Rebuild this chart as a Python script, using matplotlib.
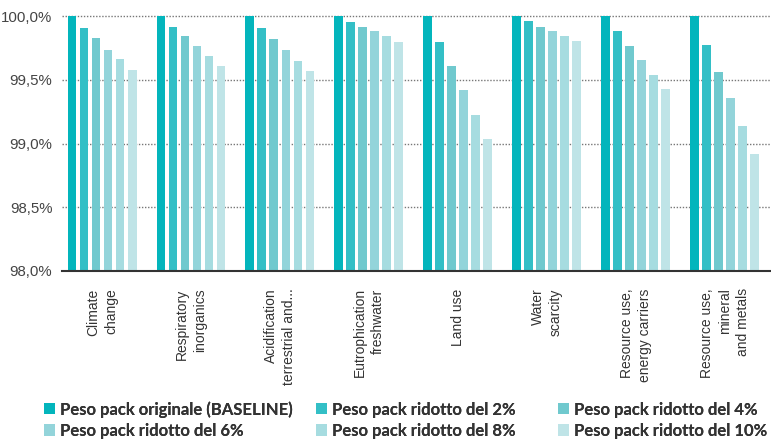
import matplotlib
matplotlib.use("Agg")
import numpy as np
from matplotlib import pyplot as plt
from matplotlib.patches import Patch

# categories / series (values in %)
categories = ["Climate\nchange", "Respiratory\ninorganics", "Acidification\nterrestrial and...",
              "Eutrophication\nfreshwater", "Land use", "Water\nscarcity",
              "Resource use,\nenergy carriers", "Resource use,\nmineral\nand metals"]
series_names = ["Peso pack originale (BASELINE)", "Peso pack ridotto del 2%", "Peso pack ridotto del 4%",
                "Peso pack ridotto del 6%", "Peso pack ridotto del 8%", "Peso pack ridotto del 10%"]
baseline = [100.0, 100.0, 100.0, 100.0, 100.0, 100.0, 100.0, 100.0]
rid_2 = [99.906, 99.914, 99.906, 99.953, 99.797, 99.961, 99.883, 99.774]
rid_4 = [99.829, 99.844, 99.821, 99.914, 99.610, 99.914, 99.766, 99.564]
rid_6 = [99.735, 99.766, 99.735, 99.883, 99.416, 99.883, 99.657, 99.353]
rid_8 = [99.665, 99.688, 99.649, 99.844, 99.221, 99.844, 99.540, 99.135]
rid_10 = [99.579, 99.610, 99.571, 99.797, 99.034, 99.805, 99.431, 98.917]
yticks = [98.0, 98.5, 99.0, 99.5, 100.0]

colors = ["#03b5bc", "#33bfc6", "#70c9ce", "#93d4da", "#a6dce0", "#bfe4e7"]
series = [baseline, rid_2, rid_4, rid_6, rid_8, rid_10]

fig = plt.figure(figsize=(7.71, 4.42), dpi=100)
ax = fig.add_axes([62/771, 171/442, 709/771, 255/442])

x = np.arange(len(categories))
step, width = 0.135, 0.10
for j, (vals, c) in enumerate(zip(series, colors)):
    ax.bar(x + (j - 2.5)*step, vals, width=width, color=c, zorder=2)

ax.set_ylim(98.0, 100.0)
ax.set_xlim(-0.45, 7.52)
ax.set_yticks(yticks)
ax.set_yticklabels([f"{v:.1f}%".replace(".", ",") for v in yticks],
                   fontfamily="Liberation Sans", fontsize=10.8, color="#444444")
ax.set_xticks(x)
ax.set_xticklabels(categories, rotation=90, ha="center", va="top", multialignment="right",
                   fontfamily="Liberation Sans", fontsize=10, color="#333333", linespacing=1.35)
ax.tick_params(axis="both", length=0)
ax.tick_params(axis="x", pad=12.5)
ax.tick_params(axis="y", pad=7)

for s in ["top", "right", "left"]:
    ax.spines[s].set_visible(False)
ax.spines["bottom"].set_color("#333333")
ax.spines["bottom"].set_linewidth(1.5)
ax.spines["bottom"].set_zorder(3)

for v in yticks[1:]:
    ax.axhline(v, color="#777777", lw=1.0, ls=(0, (1, 1.2)), zorder=1, clip_on=False)

# legend: three columns placed separately (row-wise order)
handles = [Patch(facecolor=c, edgecolor="none") for c in colors]
col_x = [44/771, 316/771, 558/771]
for k, x0 in enumerate(col_x):
    idx = [k, k + 3]
    leg = fig.legend([handles[i] for i in idx], [series_names[i] for i in idx],
                     ncol=1, loc="lower left", bbox_to_anchor=(x0, 3/442), frameon=False,
                     prop={"family": "Lato", "weight": "bold", "size": 12.0},
                     handlelength=0.67, handleheight=0.67, handletextpad=0.3,
                     labelspacing=0.32, labelcolor="#333333", borderpad=0, borderaxespad=0)
    fig.add_artist(leg)

fig.savefig("out.png", dpi=100)
